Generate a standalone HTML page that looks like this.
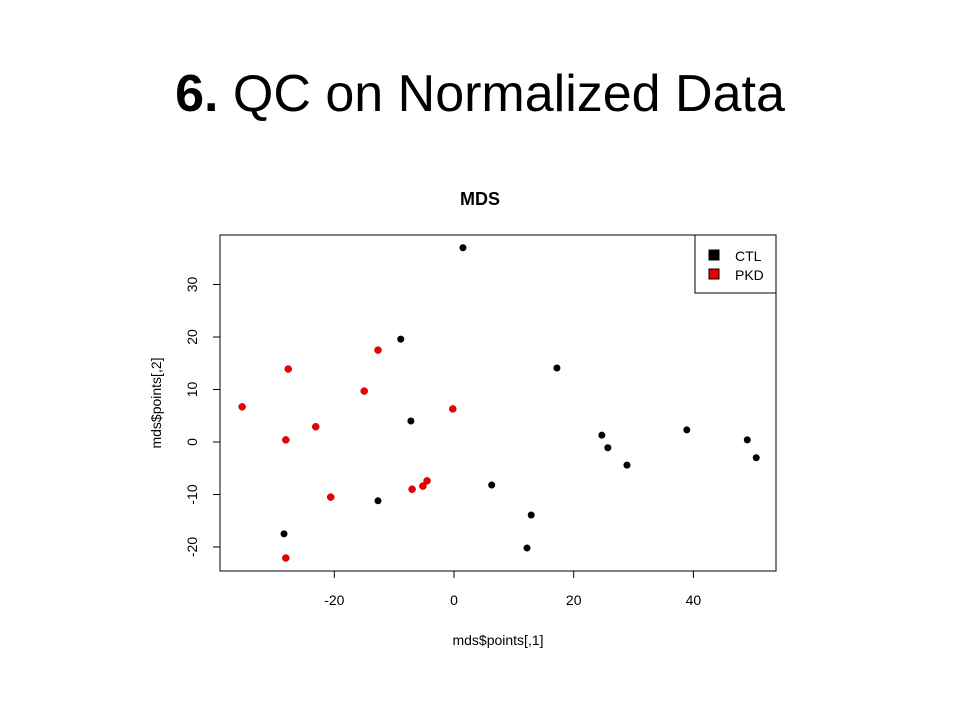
<!DOCTYPE html>
<html><head><meta charset="utf-8"><style>
body{margin:0;background:#fff;width:960px;height:720px;overflow:hidden}
svg{display:block}
text{font-family:"Liberation Sans",Arial,sans-serif}
</style></head><body>
<svg id="c" width="960" height="720">
<text x="480" y="111" text-anchor="middle" font-size="52" fill="#000"><tspan font-weight="bold">6.</tspan> QC on Normalized Data</text>
<text x="480" y="205" text-anchor="middle" font-size="18" font-weight="bold">MDS</text>
<rect x="220" y="235" width="556" height="336" fill="none" stroke="#000"/>
<g id="axes"></g><g id="pts"></g>
<text x="498" y="645" text-anchor="middle" font-size="14">mds$points[,1]</text>
<text transform="translate(161,403) rotate(-90)" text-anchor="middle" font-size="14">mds$points[,2]</text>
<g>
<rect x="695" y="235" width="81" height="58" fill="#fff" stroke="#000"/>
<rect x="709" y="250" width="10" height="10" fill="#000" stroke="#000"/>
<text x="735" y="261" font-size="14">CTL</text>
<rect x="709" y="269" width="10" height="10" fill="#e00" stroke="#000"/>
<text x="735" y="280" font-size="14">PKD</text>
</g>
</svg>
<script>
const ctlX=[1.5,-8.9,17.2,-7.2,24.7,25.7,28.9,38.9,49.0,50.5,6.3,12.9,12.2,-12.7,-28.4];
const ctlY=[37.0,19.6,14.1,4.0,1.3,-1.1,-4.4,2.3,0.4,-3.0,-8.2,-13.9,-20.2,-11.2,-17.5];
const pkdX=[-35.4,-27.7,-28.1,-23.1,-20.6,-12.7,-15.0,-0.2,-7.0,-5.2,-4.5,-28.1];
const pkdY=[6.7,13.9,0.4,2.9,-10.5,17.5,9.7,6.3,-9.0,-8.4,-7.4,-22.1];
const xTicks=[-20,0,20,40];
const yTicks=[-20,-10,0,10,20,30];
const NS="http://www.w3.org/2000/svg";
const sx=v=>454+v*5.985, sy=v=>442-v*5.25;
const ax=document.getElementById('axes'), pts=document.getElementById('pts');
function mk(t,a,p){const e=document.createElementNS(NS,t);for(const k in a)e.setAttribute(k,a[k]);p.appendChild(e);return e;}
xTicks.forEach(v=>{
 const l=mk('line',{x1:sx(v),x2:sx(v),y1:571,y2:578,stroke:'#000'},ax);
 
 
 const t=mk('text',{x:sx(v),y:605,'text-anchor':'middle','font-size':14},ax);t.textContent=v;
 
 
});
yTicks.forEach(v=>{
 const l=mk('line',{x1:213,x2:220,y1:sy(v),y2:sy(v),stroke:'#000'},ax);
 
 
 const t=mk('text',{transform:`translate(197,${sy(v)}) rotate(-90)`,'text-anchor':'middle','font-size':14},ax);t.textContent=v;
 
 
});
ctlX.forEach((v,i)=>{const c=mk('circle',{cx:sx(v),cy:sy(ctlY[i]),r:3.5,fill:'#000'},pts);
 
 });
pkdX.forEach((v,i)=>{const c=mk('circle',{cx:sx(v),cy:sy(pkdY[i]),r:3.5,fill:'#e00',stroke:'#900','stroke-width':0.5},pts);
 
 });
</script>
</body></html>
